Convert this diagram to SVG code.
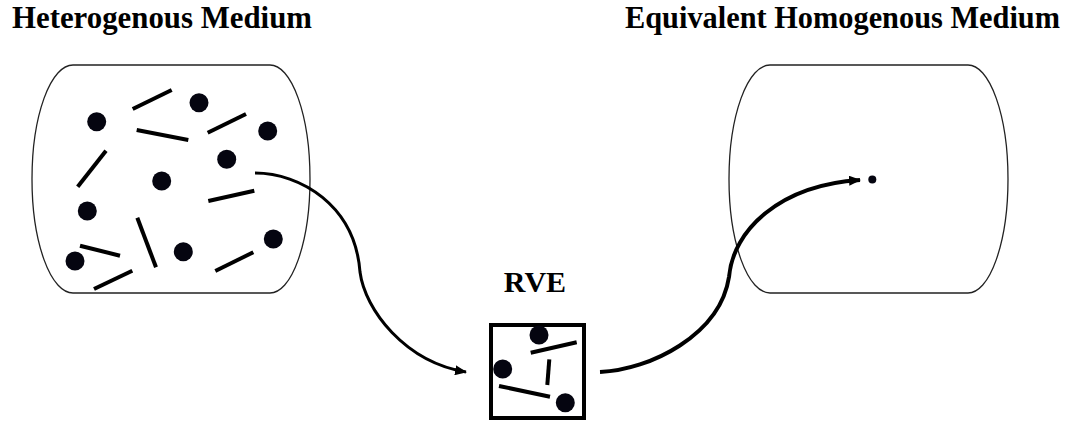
<svg xmlns="http://www.w3.org/2000/svg" width="1075" height="423" viewBox="0 0 1075 423">
<style>
.title{font-family:"Liberation Serif","Times New Roman",serif;font-weight:bold;fill:#000}
.box{fill:none;stroke:#222;stroke-width:1.3}
.fib{stroke:#000;stroke-width:4;stroke-linecap:butt}
.dot{fill:#050510}
.conn{fill:none;stroke:#000}
</style>
<defs>
<marker id="ah" viewBox="0 0 12 10" refX="11" refY="5" markerWidth="12" markerHeight="10" markerUnits="userSpaceOnUse" orient="auto">
<path d="M0,0 L12,5 L0,10 Z" fill="#000"/>
</marker>
</defs>
<rect width="1075" height="423" fill="#fff"/>
<text class="title" x="12" y="28" font-size="31" textLength="300" lengthAdjust="spacingAndGlyphs">Heterogenous Medium</text>
<text class="title" x="625" y="28" font-size="31" textLength="435" lengthAdjust="spacingAndGlyphs">Equivalent Homogenous Medium</text>

<g id="heterogeneous">
<path class="box" d="M73,65 L270,65 A40,114 0 0 1 270,293 L73,293 A41,114 0 0 1 73,65 Z"/>
<circle class="dot" cx="96.7" cy="121.7" r="9.5"/>
<circle class="dot" cx="199" cy="102.7" r="9.5"/>
<circle class="dot" cx="267.7" cy="131" r="9.5"/>
<circle class="dot" cx="226.7" cy="159.3" r="9.5"/>
<circle class="dot" cx="161.7" cy="181" r="9.5"/>
<circle class="dot" cx="87.3" cy="211" r="9.5"/>
<circle class="dot" cx="75" cy="261" r="9.5"/>
<circle class="dot" cx="183.3" cy="251.7" r="9.5"/>
<circle class="dot" cx="273.3" cy="239" r="9.5"/>
<line class="fib" x1="132.7" y1="109" x2="171.7" y2="90"/>
<line class="fib" x1="136.7" y1="130" x2="188.3" y2="140"/>
<line class="fib" x1="207.7" y1="132.7" x2="246" y2="114"/>
<line class="fib" x1="106" y1="150.7" x2="77.7" y2="186.7"/>
<line class="fib" x1="208.3" y1="201" x2="254.3" y2="190.7"/>
<line class="fib" x1="137.3" y1="217.7" x2="156" y2="267.3"/>
<line class="fib" x1="80" y1="245.7" x2="120" y2="255.7"/>
<line class="fib" x1="94" y1="289" x2="132.3" y2="270.7"/>
<line class="fib" x1="215.3" y1="271" x2="253.3" y2="252.3"/>
</g>

<g id="rve">
<text class="title" x="535" y="292" font-size="30" text-anchor="middle">RVE</text>
<rect x="491" y="325" width="93" height="93" fill="none" stroke="#000" stroke-width="4"/>
<circle class="dot" cx="539" cy="335" r="9.5"/>
<circle class="dot" cx="502.7" cy="369" r="9.5"/>
<circle class="dot" cx="565.3" cy="402.7" r="9.5"/>
<line class="fib" x1="530.7" y1="352.7" x2="576.7" y2="342.3"/>
<line class="fib" x1="549.3" y1="359.3" x2="547.3" y2="385"/>
<line class="fib" x1="499" y1="386" x2="550" y2="396.7"/>
</g>

<g id="homogeneous">
<path class="box" d="M770,65 L968,65 A40,114 0 0 1 968,293 L770,293 A41,114 0 0 1 770,65 Z"/>
<circle class="dot" cx="872.3" cy="179.5" r="4"/>
</g>

<g id="connectors">
<path class="conn" stroke-width="3" marker-end="url(#ah)" d="M255,173 C300,173 355,205 360,272 C365,310 405,362 466,372"/>
<path class="conn" stroke-width="4" marker-end="url(#ah)" d="M600,372 C650,370 720,335 729,277 C733,230 780,185 860,180"/>
</g>
</svg>
